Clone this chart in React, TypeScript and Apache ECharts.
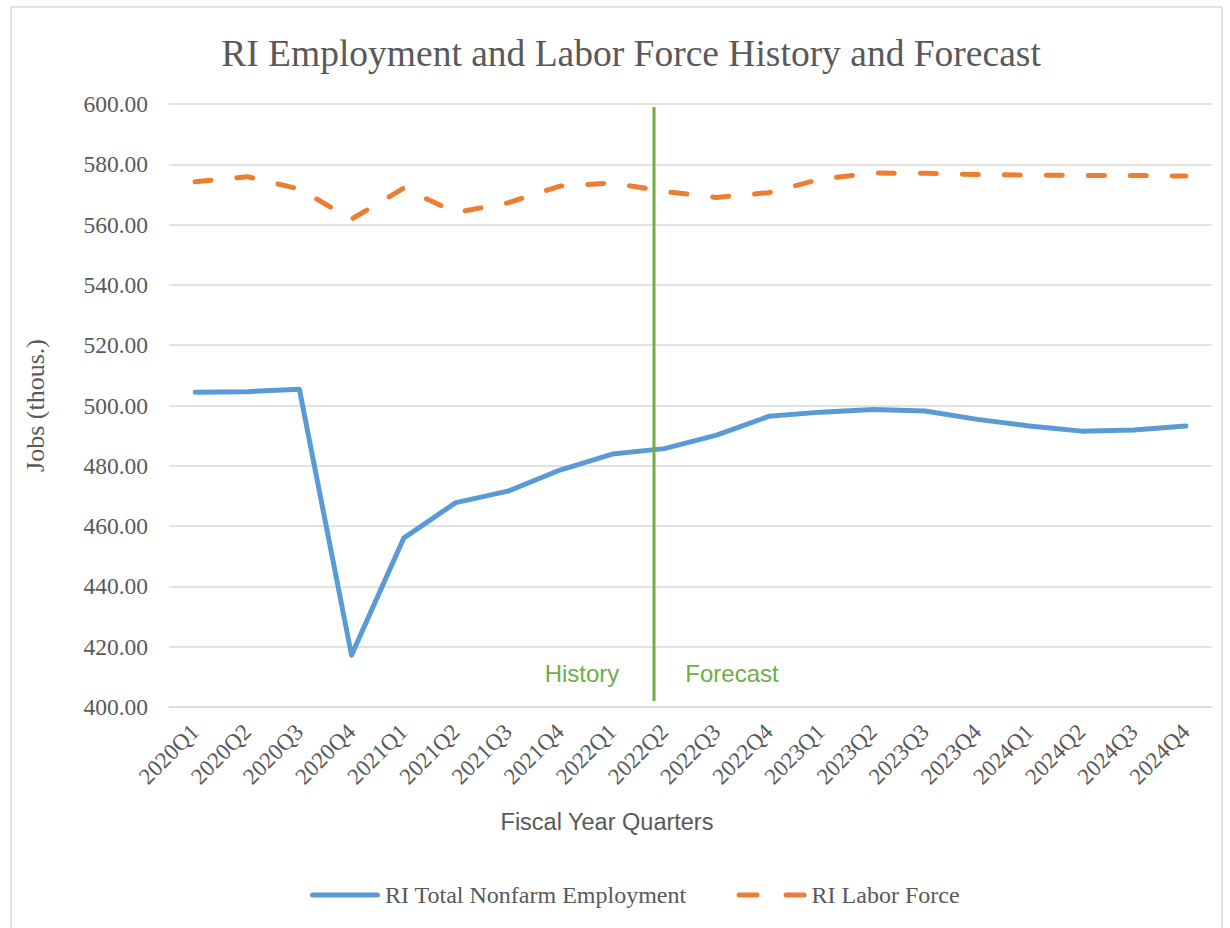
import React, { useEffect, useRef } from "react";
import * as echarts from "echarts";

const categories = [
  "2020Q1", "2020Q2", "2020Q3", "2020Q4",
  "2021Q1", "2021Q2", "2021Q3", "2021Q4",
  "2022Q1", "2022Q2", "2022Q3", "2022Q4",
  "2023Q1", "2023Q2", "2023Q3", "2023Q4",
  "2024Q1", "2024Q2", "2024Q3", "2024Q4",
];

const employment = [
  504.4, 504.6, 505.4, 417.2,
  456.0, 467.8, 471.6, 478.6,
  483.9, 485.7, 490.2, 496.4,
  497.8, 498.7, 498.2, 495.4,
  493.2, 491.5, 491.9, 493.2,
];

const laborForce = [
  574.2, 575.9, 571.8, 561.8,
  572.1, 564.0, 567.2, 572.8,
  573.8, 571.0, 569.0, 570.6,
  575.1, 577.1, 577.0, 576.6,
  576.4, 576.3, 576.3, 576.1,
];

const yTicks = { min: 400, max: 600, interval: 20 };

const SERIF = "'Liberation Serif', 'Times New Roman', serif";
const SANS = "'Liberation Sans', 'Open Sans', Arial, sans-serif";
const GREY = "#595959";

const SOLID_ICON = "path://M2.5,0h65a2.5,2.5 0 0 1 0,5h-65a2.5,2.5 0 0 1 0,-5z";
const DASH_ICON =
  "path://M2.5,0h18a2.5,2.5 0 0 1 0,5h-18a2.5,2.5 0 0 1 0,-5z M49.5,0h18a2.5,2.5 0 0 1 0,5h-18a2.5,2.5 0 0 1 0,-5z";

export default function App() {
  const ref = useRef<HTMLDivElement>(null);
  useEffect(() => {
    document.body.style.margin = "0";
    const chart = echarts.init(ref.current!, null, { renderer: "svg" });
    chart.setOption({
      animation: false,
      backgroundColor: "#ffffff",
      title: {
        text: "RI Employment and Labor Force History and Forecast",
        left: 626,
        top: 29,
        textAlign: "center",
        textStyle: { fontFamily: SERIF, fontSize: 37.5, fontWeight: "normal", color: GREY },
      },
      grid: { left: 169, right: 18, top: 104, bottom: 221, containLabel: false },
      xAxis: {
        type: "category",
        data: categories,
        boundaryGap: true,
        axisLine: { show: true, lineStyle: { color: "#d9d9d9", width: 1.5 } },
        axisTick: { show: false },
        axisLabel: {
          rotate: 45,
          interval: 0,
          margin: 21,
          fontFamily: SERIF,
          fontSize: 23,
          color: GREY,
        },
      },
      yAxis: {
        type: "value",
        min: yTicks.min,
        max: yTicks.max,
        interval: yTicks.interval,
        name: "Jobs (thous.)",
        nameLocation: "middle",
        nameGap: 121,
        nameTextStyle: { fontFamily: SERIF, fontSize: 26, color: GREY },
        axisLine: { show: false },
        axisTick: { show: false },
        axisLabel: {
          margin: 21,
          fontFamily: SERIF,
          fontSize: 23.5,
          color: GREY,
          formatter: (v: number) => v.toFixed(2),
        },
        splitLine: { lineStyle: { color: "#d9d9d9", width: 1.5 } },
      },
      legend: {
        top: 878,
        left: 305,
        itemWidth: 70,
        itemHeight: 5,
        itemGap: 50,
        textStyle: { fontFamily: SERIF, fontSize: 24, color: GREY },
        data: [
          { name: "RI Total Nonfarm Employment", icon: SOLID_ICON },
          { name: "RI Labor Force", icon: DASH_ICON },
        ],
      },
      series: [
        {
          name: "RI Total Nonfarm Employment",
          type: "line",
          data: employment,
          symbol: "none",
          lineStyle: { color: "#5b9bd5", width: 5, cap: "round", join: "round" },
          itemStyle: { color: "#5b9bd5" },
        },
        {
          name: "RI Labor Force",
          type: "line",
          data: laborForce,
          symbol: "none",
          lineStyle: { color: "#ed7d31", width: 5, type: [16, 26], cap: "round", join: "round" },
          itemStyle: { color: "#ed7d31" },
        },
      ],
      graphic: [
        {
          type: "rect",
          shape: { x: 11, y: 7, width: 1211, height: 940 },
          style: { fill: "none", stroke: "#d9d9d9", lineWidth: 1.5 },
          silent: true,
        },
        {
          type: "line",
          shape: { x1: 654, y1: 107, x2: 654, y2: 701 },
          style: { stroke: "#70ad47", lineWidth: 3 },
          z: 10,
        },
        {
          type: "text",
          x: 582,
          y: 673,
          style: { text: "History", fontFamily: SANS, fontSize: 24, fill: "#70ad47", align: "center", verticalAlign: "middle" },
        },
        {
          type: "text",
          x: 732,
          y: 673,
          style: { text: "Forecast", fontFamily: SANS, fontSize: 24, fill: "#70ad47", align: "center", verticalAlign: "middle" },
        },
        {
          type: "text",
          x: 607,
          y: 822,
          style: { text: "Fiscal Year Quarters", fontFamily: SANS, fontSize: 23.5, fill: GREY, align: "center", verticalAlign: "middle" },
        },
      ],
    });
    return () => chart.dispose();
  }, []);
  return <div ref={ref} style={{ width: 1230, height: 928 }} />;
}
